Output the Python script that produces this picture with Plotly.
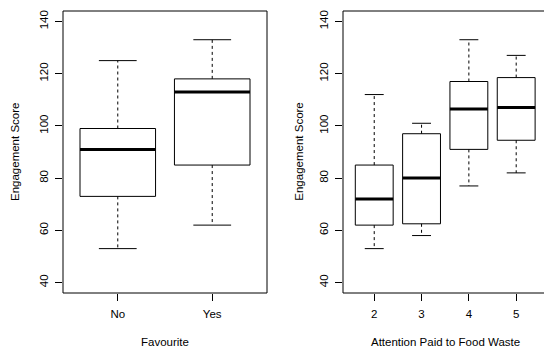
import plotly.graph_objects as go

W, H = 544, 352

# ---- data ----
fav_cats = ["No", "Yes"]
fav_lo = [53, 62]
fav_q1 = [73, 85]
fav_med = [91, 113]
fav_q3 = [99, 118]
fav_hi = [125, 133]

att_cats = ["2", "3", "4", "5"]
att_lo = [53, 58, 77, 82]
att_q1 = [62, 62.5, 91, 94.5]
att_med = [72, 80, 106.5, 107]
att_q3 = [85, 97, 117, 118.5]
att_hi = [112, 101, 133, 127]

y_ticks = [40, 60, 80, 100, 120, 140]

BOXW = 0.8
CAPW = 0.4
FONT = "Liberation Sans, Arial, Helvetica, sans-serif"
FS = 11.5


def box_traces(lo, q1, med, q3, hi, xa, ya):
    bx, by, mx, my, wx, wy, cx, cy = [], [], [], [], [], [], [], []
    for i in range(len(lo)):
        x = i + 1
        h = BOXW / 2
        bx += [x - h, x + h, x + h, x - h, x - h, None]
        by += [q1[i], q1[i], q3[i], q3[i], q1[i], None]
        mx += [x - h, x + h, None]
        my += [med[i], med[i], None]
        wx += [x, x, None, x, x, None]
        wy += [q3[i], hi[i], None, q1[i], lo[i], None]
        c = CAPW / 2
        cx += [x - c, x + c, None, x - c, x + c, None]
        cy += [hi[i], hi[i], None, lo[i], lo[i], None]
    common = dict(mode="lines", xaxis=xa, yaxis=ya, showlegend=False, hoverinfo="skip")
    return [
        go.Scatter(x=wx, y=wy, line=dict(color="black", width=1, dash="3px,3px"), **common),
        go.Scatter(x=cx, y=cy, line=dict(color="black", width=1), **common),
        go.Scatter(x=bx, y=by, line=dict(color="black", width=1), **common),
        go.Scatter(x=mx, y=my, line=dict(color="black", width=3), **common),
    ]


fig = go.Figure()
for t in box_traces(fav_lo, fav_q1, fav_med, fav_q3, fav_hi, "x", "y"):
    fig.add_trace(t)
for t in box_traces(att_lo, att_q1, att_med, att_q3, att_hi, "x2", "y2"):
    fig.add_trace(t)

ydom = [(H - 293) / H, (H - 11) / H]
tickfont = dict(family=FONT, size=FS, color="black")

xcommon = dict(showgrid=False, zeroline=False, showline=False, ticks="outside",
               ticklen=7, tickcolor="black", tickwidth=1, tickfont=tickfont,
               ticklabelstandoff=3)
ycommon = dict(showgrid=False, zeroline=False, showline=False, ticks="outside",
               ticklen=7, tickcolor="black", tickwidth=1, tickfont=tickfont,
               range=[36, 144], tickvals=y_ticks, tickangle=-90, ticklabelstandoff=2)

fig.update_layout(
    width=W, height=H,
    margin=dict(l=0, r=0, t=0, b=0),
    paper_bgcolor="white", plot_bgcolor="white",
    xaxis=dict(domain=[63 / W, 267 / W], range=[0.42, 2.58],
               tickvals=list(range(1, len(fav_cats) + 1)), ticktext=fav_cats, anchor="y", **xcommon),
    yaxis=dict(domain=ydom, anchor="x", **ycommon),
    xaxis2=dict(domain=[343 / W, 1.0], range=[0.34, 1 + (544 - 374.3) / 47.3],
                tickvals=list(range(1, len(att_cats) + 1)), ticktext=att_cats, anchor="y2", **xcommon),
    yaxis2=dict(domain=ydom, anchor="x2", **ycommon),
)

# frames
line = dict(color="black", width=1)
fig.add_shape(type="rect", xref="x domain", yref="y domain", x0=0, x1=1, y0=0, y1=1, line=line)
for (x0, y0, x1, y1) in [(0, 0, 1, 0), (0, 1, 1, 1), (0, 0, 0, 1)]:
    fig.add_shape(type="line", xref="x2 domain", yref="y2 domain", x0=x0, y0=y0, x1=x1, y1=y1, line=line)

# axis titles
tfont = dict(family=FONT, size=FS, color="black")
ymid = 1 - 152 / H
fig.add_annotation(text="Engagement Score", x=15 / W, y=ymid, xref="paper", yref="paper",
                   textangle=-90, showarrow=False, font=tfont, xanchor="center", yanchor="middle")
fig.add_annotation(text="Engagement Score", x=298.7 / W, y=ymid, xref="paper", yref="paper",
                   textangle=-90, showarrow=False, font=tfont, xanchor="center", yanchor="middle")
fig.add_annotation(text="Favourite", x=165 / W, y=(H - 341.7) / H, xref="paper", yref="paper",
                   showarrow=False, font=tfont, xanchor="center", yanchor="middle")
fig.add_annotation(text="Attention Paid to Food Waste", x=445 / W, y=(H - 341.7) / H, xref="paper",
                   yref="paper", showarrow=False, font=tfont, xanchor="center", yanchor="middle")

fig.write_html("out.html", config={"displayModeBar": False},
               post_script="document.body.style.margin='0';document.body.style.padding='0';document.body.style.overflow='hidden';")
